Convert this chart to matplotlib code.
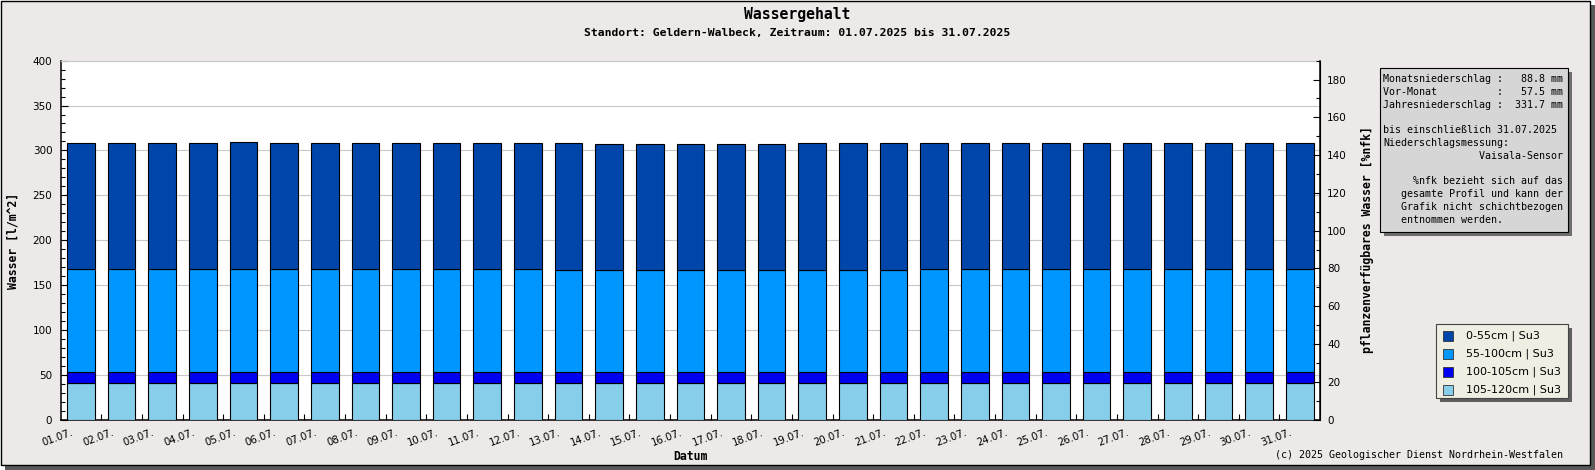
import numpy as np
import matplotlib
matplotlib.use("Agg")
import matplotlib.pyplot as plt
from matplotlib.patches import Rectangle
from matplotlib.ticker import MultipleLocator, FixedLocator
from matplotlib.transforms import ScaledTranslation

# data: daily water content per soil layer [l/m^2], 01.07. - 31.07.2025
days = ["%02d.07." % d for d in range(1, 32)]
layer_105_120 = [41.0] * 31
layer_100_105 = [12.5] * 31
layer_55_100 = [114.5] * 12 + [113.0] * 9 + [114.5] * 10
layer_0_55 = [139.7, 139.7, 140.8, 140.8, 141.9, 140.8, 140.8, 140.8, 140.8, 139.7,
              139.7, 139.7, 141.2, 140.1, 140.1, 140.1, 140.1, 140.1, 141.2, 141.2,
              141.2, 140.8, 140.8, 140.8, 140.8, 140.8, 139.7, 139.7, 139.7, 140.8,
              140.8]
legend_labels = ["0-55cm | Su3", "55-100cm | Su3", "100-105cm | Su3", "105-120cm | Su3"]
layer_colors = ["#0046aa", "#0096ff", "#0000f0", "#87ceeb"]

info_lines = [
    "Monatsniederschlag :   88.8 mm",
    "Vor-Monat          :   57.5 mm",
    "Jahresniederschlag :  331.7 mm",
    "",
    "bis einschließlich 31.07.2025",
    "Niederschlagsmessung:",
    "                Vaisala-Sensor",
    "",
    "     %nfk bezieht sich auf das",
    "   gesamte Profil und kann der",
    "   Grafik nicht schichtbezogen",
    "   entnommen werden.",
]

W, H = 1595, 470
BG = "#ece9e8"
MONO = "DejaVu Sans Mono"


def fx(p):
    return p / W


def fy(p):
    return 1 - p / H


fig = plt.figure(figsize=(W / 100, H / 100), dpi=100, facecolor="white")

# frame with shadow
fig.patches.append(Rectangle((fx(5), fy(470)), fx(1590), 465 / H, transform=fig.transFigure,
                             fc="#5a5a5a", ec="none", zorder=-20))
fig.patches.append(Rectangle((fx(0.5), fy(465)), fx(1589.5), 464.5 / H, transform=fig.transFigure,
                             fc=BG, ec="black", lw=1, zorder=-19))

ax = fig.add_axes([fx(60.7), fy(419.5), fx(1320 - 60.7), (419.5 - 60.7) / H])
ax.set_facecolor("white")

x = np.arange(1, 32)
layers = [layer_105_120, layer_100_105, layer_55_100, layer_0_55]
cols = layer_colors[::-1]
bottom = np.zeros(31)
for vals, c in zip(layers, cols):
    ax.bar(x, vals, width=0.68, bottom=bottom, color=c, edgecolor="black", linewidth=0.8, zorder=3)
    bottom += np.array(vals)

ax.set_xlim(0.5, 31.5)
ax.set_ylim(0, 400)
ax.yaxis.set_major_locator(MultipleLocator(50))
ax.yaxis.set_minor_locator(MultipleLocator(10))
ax.yaxis.grid(True, which="major", color="#c8c8c8", lw=0.8, zorder=0)
ax.set_axisbelow(True)

ax.set_xticks(x)
ax.set_xticklabels(days, rotation=20, ha="right", rotation_mode="anchor", fontsize=7.3)
ax.xaxis.set_minor_locator(FixedLocator(x[:-1] + 0.5))
ax.tick_params(axis="x", which="major", length=0, pad=5.5)
ax.tick_params(axis="x", which="minor", length=4, width=0.8, direction="in")
ax.tick_params(axis="y", which="major", length=5, width=0.8, direction="in", labelsize=7.5, pad=6)
ax.tick_params(axis="y", which="minor", length=3, width=0.8, direction="in")
off = ScaledTranslation(-0.10, 0, fig.dpi_scale_trans)
for lbl in ax.get_xticklabels():
    lbl.set_transform(lbl.get_transform() + off)

for s in ["left", "bottom"]:
    ax.spines[s].set_linewidth(1.1)
ax.spines["top"].set_color("#c8c8c8")
ax.spines["top"].set_linewidth(0.8)

ax2 = ax.twinx()
ax2.set_ylim(0, 190)
ax2.yaxis.set_major_locator(MultipleLocator(20))
ax2.yaxis.set_minor_locator(MultipleLocator(10))
ax2.tick_params(axis="y", which="major", length=5, width=0.8, direction="in", labelsize=7.5, pad=5)
ax2.tick_params(axis="y", which="minor", length=3, width=0.8, direction="in")
ax2.spines["right"].set_linewidth(1.1)
ax2.spines["top"].set_visible(False)
ax2.spines["left"].set_visible(False)
ax2.spines["bottom"].set_visible(False)

# titles and axis labels
fig.text(0.5, fy(14), "Wassergehalt", family=MONO, weight="bold", size=10.6, ha="center", va="center")
fig.text(0.5, fy(33), "Standort: Geldern-Walbeck, Zeitraum: 01.07.2025 bis 31.07.2025",
         family=MONO, weight="bold", size=8.2, ha="center", va="center")
fig.text(fx(13.5), fy(241), "Wasser [l/m^2]", family=MONO, weight="bold", size=8.3,
         rotation=90, ha="center", va="center")
fig.text(fx(1368), fy(240), "pflanzenverfügbares Wasser [%nfk]", family=MONO, weight="bold",
         size=8.3, rotation=90, ha="center", va="center")
fig.text(fx(690), fy(456), "Datum", family=MONO, weight="bold", size=8.3, ha="center", va="center")
fig.text(fx(1563), fy(455), "(c) 2025 Geologischer Dienst Nordrhein-Westfalen", family=MONO,
         size=7.2, ha="right", va="center")

# info box
fig.patches.append(Rectangle((fx(1384), fy(236)), fx(188), 164 / H, transform=fig.transFigure,
                             fc="#6e6e6e", ec="none"))
fig.patches.append(Rectangle((fx(1380), fy(232)), fx(188), 164 / H, transform=fig.transFigure,
                             fc="#d6d6d6", ec="black", lw=0.8))
for i, line in enumerate(info_lines):
    fig.text(fx(1383), fy(79 + 12.8 * i), line, family=MONO, size=7.2, ha="left", va="center")

# legend
fig.patches.append(Rectangle((fx(1440), fy(402)), fx(132), 74 / H, transform=fig.transFigure,
                             fc="#5e5e5e", ec="none"))
fig.patches.append(Rectangle((fx(1436), fy(398)), fx(132), 74 / H, transform=fig.transFigure,
                             fc="#eeeee2", ec="#444444", lw=0.8))
for k, (lab, c) in enumerate(zip(legend_labels, layer_colors)):
    yc = 336 + 18 * k
    fig.patches.append(Rectangle((fx(1443), fy(yc + 5)), fx(10), 10 / H, transform=fig.transFigure,
                                 fc=c, ec="#333333", lw=0.6))
    fig.text(fx(1466), fy(yc), lab, size=8, ha="left", va="center")

fig.savefig("out.png", dpi=100, facecolor=fig.get_facecolor())
